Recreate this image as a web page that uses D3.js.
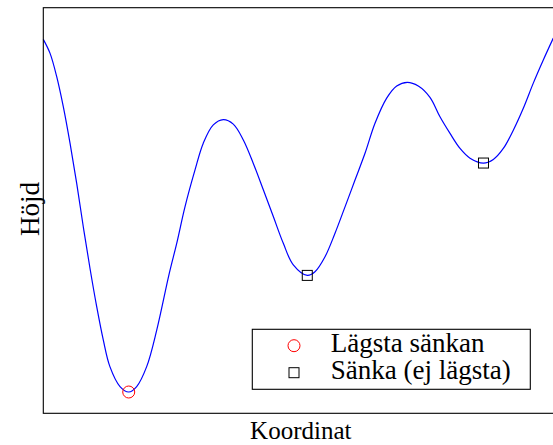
<!DOCTYPE html>
<html>
<head>
<meta charset="utf-8">
<script src="https://d3js.org/d3.v7.min.js"></script>
<style>
  body { margin: 0; background: #fff; }
  text { font-family: "Liberation Serif", "DejaVu Serif", serif; fill: #000; }
</style>
</head>
<body>
<div id="chart"></div>
<script>
// Kurvans punkter (x = koordinat 0-100, y = höjd 0-100)
var koordinat = [0, 1.31, 2.63, 3.92, 5.24, 6.55, 7.84, 9.16, 10.47, 11.76, 13.06, 15.04, 16.75,
  18.31, 20.27, 22.24, 24.7, 26.16, 27.78, 29.75, 31.37, 33.33, 35.29, 37.25, 39.22, 41.18,
  43.14, 45.1, 47.06, 49.02, 51.76, 53.27, 55.24, 57.2, 59.16, 61.12, 63.08, 65.04, 67.33,
  69.29, 71.37, 73.53, 75.82, 77.78, 79.75, 81.71, 83.67, 86.31, 88.24, 90.2, 92.16, 94.12,
  96.08, 98.04, 100];
var hojd = [92.2, 88.8, 83.0, 75.6, 66.6, 56.7, 46.0, 35.7, 26.3, 18.1, 11.5, 6.6, 5.25,
  6.6, 11.5, 20.5, 34.5, 41.9, 50.9, 60.0, 66.6, 71.1, 72.4, 71.3, 67.4, 61.6,
  55.1, 48.5, 41.9, 36.6, 34.0, 34.9, 38.6, 44.4, 50.9, 57.5, 64.1, 71.5, 77.7,
  80.7, 81.6, 80.7, 77.9, 73.1, 69.0, 65.3, 62.9, 61.7, 62.6, 65.3, 69.8, 75.2,
  81.4, 87.1, 92.5];

// Sänkorna
var lagstaX = [16.75], lagstaY = [5.25];
var sankaX = [51.76, 86.31], sankaY = [34.0, 61.7];

var legendLabels = ["Lägsta sänkan", "Sänka (ej lägsta)"];

var width = 553, height = 445;
var plot = {left: 43.3, top: 7.7, bottom: 413.3};

var svg = d3.select("#chart")
  .append("svg")
    .attr("width", width)
    .attr("height", height);

// x-skalan går lite utanför bilden (ramen slutar till höger om kanten)
var x = d3.scaleLinear().domain([0, 101]).range([plot.left, 558.4]);
var y = d3.scaleLinear().domain([0, 100]).range([plot.bottom, plot.top]);

var points = koordinat.map(function(d, i) { return [d, hojd[i]]; });

var line = d3.line()
  .x(function(d) { return x(d[0]); })
  .y(function(d) { return y(d[1]); })
  .curve(d3.curveCatmullRom.alpha(0.5));

svg.append("path")
  .datum(points)
  .attr("d", line)
  .attr("fill", "none")
  .attr("stroke", "#0000ff")
  .attr("stroke-width", 1.2);

// röd ring för lägsta sänkan
svg.selectAll(".lagsta")
  .data(lagstaX)
  .enter()
  .append("circle")
    .attr("class", "lagsta")
    .attr("cx", function(d) { return x(d); })
    .attr("cy", function(d, i) { return y(lagstaY[i]); })
    .attr("r", 6)
    .attr("fill", "none")
    .attr("stroke", "#ff0000")
    .attr("stroke-width", 1);

// fyrkanter för övriga sänkor
var s = 10;
svg.selectAll(".sanka")
  .data(sankaX)
  .enter()
  .append("rect")
    .attr("class", "sanka")
    .attr("x", function(d) { return x(d) - s / 2; })
    .attr("y", function(d, i) { return y(sankaY[i]) - s / 2; })
    .attr("width", s)
    .attr("height", s)
    .attr("fill", "none")
    .attr("stroke", "#000")
    .attr("stroke-width", 1);

// ram runt diagrammet
svg.append("rect")
  .attr("x", x(0))
  .attr("y", y(100))
  .attr("width", x(101) - x(0))
  .attr("height", y(0) - y(100))
  .attr("fill", "none")
  .attr("stroke", "#000")
  .attr("stroke-width", 1.1);

// axeltitlar
svg.append("text")
  .attr("x", 300.8)
  .attr("y", 439)
  .attr("text-anchor", "middle")
  .style("font-size", "25px")
  .text("Koordinat");

svg.append("text")
  .attr("transform", "translate(39.3,209) rotate(-90)")
  .attr("text-anchor", "middle")
  .style("font-size", "27px")
  .text("Höjd");

// legend
var legend = svg.append("g").attr("transform", "translate(252.3,329.3)");
legend.append("rect")
  .attr("width", 278)
  .attr("height", 60)
  .attr("fill", "#fff")
  .attr("stroke", "#000")
  .attr("stroke-width", 1.1);

legend.append("circle")
  .attr("cx", 41.7).attr("cy", 16.4).attr("r", 6)
  .attr("fill", "none").attr("stroke", "#ff0000").attr("stroke-width", 1);
legend.append("rect")
  .attr("x", 41.7 - 5).attr("y", 43.4 - 5).attr("width", 10).attr("height", 10)
  .attr("fill", "none").attr("stroke", "#000").attr("stroke-width", 1);

legend.selectAll(".lbl")
  .data(legendLabels)
  .enter()
  .append("text")
    .attr("class", "lbl")
    .attr("x", 78.4)
    .attr("y", function(d, i) { return 23 + i * 27; })
    .style("font-size", "27px")
    .text(function(d) { return d; });
</script>
</body>
</html>
